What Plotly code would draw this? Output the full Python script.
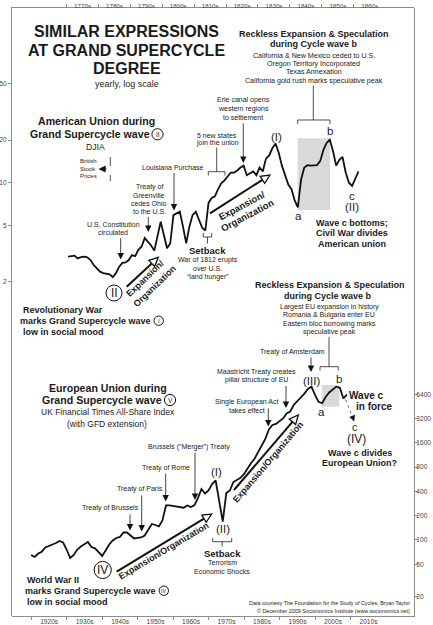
import math
import plotly.graph_objects as go

# ---------------- data ----------------
djia_years = list(range(1770, 1862))
djia_values = [
    3.0, 3.02, 3.05, 2.92, 2.98, 3.0, 2.97, 2.84, 2.62, 2.48,
    2.35, 2.3, 2.27, 2.25, 2.15, 2.3, 2.55, 2.71, 2.73, 2.84,
    3.08, 3.03, 3.35, 3.53, 4.06, 3.83, 3.6, 3.31, 4.15, 5.3,
    4.27, 3.44, 3.73, 5.9, 6.07, 6.24, 4.89, 3.73, 4.89, 5.9,
    6.24, 5.5, 4.8, 4.6, 7.2, 7.8, 8.0, 9.0, 9.9, 10.4,
    11.0, 11.8, 11.8, 12.2, 12.8, 13.2, 11.3, 11.6, 12.0, 11.3,
    12.8, 12.0, 14.8, 15.6, 17.5, 18.9, 16.3, 13.2, 11.3, 9.7,
    9.0, 7.5, 6.7, 10.5, 12.8, 13.3, 13.2, 13.2, 13.3, 14.2,
    17.0, 19.1, 20.1, 16.8, 13.2, 14.5, 15.2, 11.8, 10.0, 9.5,
    10.8, 12.0,
]
ft_years = list(range(1920, 2010))
ft_values = [
    65, 61.6, 68, 71.6, 80.7, 84.4, 86.7, 91.8, 97.2, 93.1,
    76.2, 59.8, 65.2, 76.2, 83, 89.2, 94.4, 81.8, 78.9, 70.9,
    63.4, 74.1, 88, 98.6, 105.9, 109, 123.8, 123.8, 113.7, 104.4,
    105.9, 107.4, 113.7, 133, 157.8, 153.4, 147, 175, 268, 268,
    264, 256, 256, 251, 268, 256, 269, 331, 428, 377,
    410, 494, 546, 313, 169, 382, 410, 523, 554, 590,
    658, 780, 900, 1023, 1231, 1461, 1785, 2340, 2660, 2738,
    2983, 3206, 3697, 3912, 4709, 5205, 5754, 6506, 7432, 7943,
    6266, 5150, 4950, 5915, 6730, 7330, 7943, 7700, 5662, 6353,
]
top_decades = list(range(1770, 1870, 10))
top_labels = [f"{d}s" for d in top_decades]
bottom_decades = list(range(1920, 2020, 10))
bottom_labels = [f"{d}s" for d in bottom_decades]
djia_ticks = [2, 5, 10, 20, 50]
ft_ticks = [20, 50, 100, 200, 400, 800, 1600, 3200, 6400]

# ---------------- geometry helpers ----------------
W, H = 433, 625
L, R, T, B = 12, 414, 8, 616
FONT = "Liberation Sans, Arial, Helvetica, sans-serif"
TXT = "#1a1a1a"


def px(x):
    return (x - L) / (R - L)


def py(y):
    return (B - y) / (B - T)


ann = []
shapes = []


def txt(x, y, s, size=7, bold=False, anchor="center", angle=0, color=TXT):
    ann.append(dict(x=px(x), y=py(y), xref="paper", yref="paper",
                    text=f"<b>{s}</b>" if bold else s, showarrow=False,
                    xanchor=anchor, yanchor="middle", textangle=angle,
                    font=dict(size=size, color=color, family=FONT), borderpad=0))


def lines(x, y0, dy, items, size=7, bold=False, anchor="center"):
    for i, s in enumerate(items):
        txt(x, y0 + i * dy, s, size, bold, anchor)


def arrow(x0, y0, x1, y1, width=0.8, size=1.6, color="#111"):
    ann.append(dict(x=px(x1), y=py(y1), xref="paper", yref="paper",
                    ax=x0 - x1, ay=y0 - y1, axref="pixel", ayref="pixel",
                    text="", showarrow=True, arrowhead=2, arrowsize=size,
                    arrowwidth=width, arrowcolor=color, standoff=0, startstandoff=0))


def seg(x0, y0, x1, y1, width=0.8, color="#222", dash="solid"):
    shapes.append(dict(type="line", xref="paper", yref="paper",
                       x0=px(x0), y0=py(y0), x1=px(x1), y1=py(y1),
                       line=dict(color=color, width=width, dash=dash)))


def path(points, width=0.8, color="#222", fill=None, close=False):
    d = "M " + " L ".join(f"{px(a):.5f},{py(b):.5f}" for a, b in points)
    if close:
        d += " Z"
    sh = dict(type="path", xref="paper", yref="paper", path=d,
              line=dict(color=color, width=width))
    if fill:
        sh["fillcolor"] = fill
    shapes.append(sh)


def rect(x0, y0, x1, y1, fill="#d9d9d9"):
    shapes.append(dict(type="rect", xref="paper", yref="paper", layer="below",
                       x0=px(x0), y0=py(y1), x1=px(x1), y1=py(y0),
                       fillcolor=fill, line=dict(width=0)))


def circ(cx, cy, r, label, size, width=1.0):
    shapes.append(dict(type="circle", xref="paper", yref="paper",
                       x0=px(cx - r), x1=px(cx + r), y0=py(cy + r), y1=py(cy - r),
                       line=dict(color="#111", width=width)))
    txt(cx, cy + 0.3, label, size)


def big_arrow(x0, y0, x1, y1, head=9, half=4.2, lw=2.0):
    dx, dy = x1 - x0, y1 - y0
    ln = math.hypot(dx, dy)
    ux, uy = dx / ln, dy / ln
    nx, ny = -uy, ux
    bx, by = x1 - head * ux, y1 - head * uy
    seg(x0, y0, bx, by, width=lw, color="#111")
    path([(x1, y1), (bx + nx * half, by + ny * half), (bx - nx * half, by - ny * half)],
         width=1.3, color="#111", fill="white", close=True)


# ---------------- decorations ----------------
rect(297.7, 138.3, 330, 210)
rect(321.7, 385, 339.3, 406.7)

txt(126.5, 31.7, "SIMILAR EXPRESSIONS", 16, True)
txt(126.5, 50.3, "AT GRAND SUPERCYCLE", 16, True)
txt(126.5, 69, "DEGREE", 16, True)
txt(126.5, 84, "yearly, log scale", 9)

# --- Upper panel (American Union) ---
txt(313.8, 33.7, "Reckless Expansion &amp; Speculation", 9, True)
txt(313.8, 44, "during Cycle wave b", 9, True)
lines(313.8, 55.7, 8.3, ["California &amp; New Mexico ceded to U.S.",
                          "Oregon Territory Incorporated",
                          "Texas Annexation",
                          "California gold rush marks speculative peak"], 7.1)
seg(313.3, 85.5, 313.3, 120)
path([(297.7, 124), (297.7, 120), (330, 120), (330, 124)])

lines(243.3, 100, 8.8, ["Erie canal opens", "western regions", "to settlement"], 7)
arrow(243.3, 122, 243.3, 163)

lines(217.2, 135, 8.3, ["5 new states", "join the union"], 7)
seg(216.7, 147.5, 216.7, 171.7)
path([(208.3, 175.5), (208.3, 171.7), (225, 171.7), (225, 175.5)])

txt(173.3, 167.3, "Louisiana Purchase", 7)
arrow(174, 171.5, 174, 210.5)

lines(149, 186.7, 8.35, ["Treaty of", "Greenville", "cedes Ohio", "to the U.S."], 7)
arrow(148.3, 215.5, 148.3, 232)

lines(113.2, 224, 8.3, ["U.S. Constitution", "circulated"], 7)
arrow(120.7, 236.7, 120.7, 259.5)

txt(96.7, 120.7, "American Union during", 10.6, True)
txt(150.5, 134.3, "Grand Supercycle wave", 10.6, True, anchor="right")
circ(157.5, 134.3, 5.6, "II", 6.5)
txt(95, 146.7, "DJIA", 8.6)

lines(88, 161, 7.6, ["British", "Stock", "Prices"], 6)
seg(110.3, 157, 110.3, 181, width=0.8, dash="dash")
arrow(108, 169, 98.5, 169, width=1.1, size=1.3)

txt(207.5, 250.7, "Setback", 9.5, True)
lines(207.5, 260, 8.6, ["War of 1812 erupts", "over U.S.", "\u201cland hunger\u201d"], 7)
path([(203.3, 233), (203.3, 237), (211.7, 237), (211.7, 233)])
seg(207.5, 237, 207.5, 243.5)

circ(114, 293, 8, "II", 12)

txt(145.6, 278.3, "Expansion/", 9, True, angle=-44)
txt(154.8, 285.9, "Organization", 9, True, angle=-44)
big_arrow(126.7, 286.7, 158.3, 257.3)

txt(241.7, 205, "Expansion/", 9.5, True, angle=-28)
txt(246.7, 215, "Organization", 9.5, True, angle=-28)
big_arrow(210, 213.3, 270, 175)

txt(276, 137.3, "(I)", 11.5)
txt(330, 130.7, "b", 11.5)
txt(298.7, 216, "a", 11.5)
txt(351.7, 196, "c", 11.5)
txt(351.7, 207.3, "(II)", 11.5)
lines(351.7, 222.7, 10.7, ["Wave c bottoms;", "Civil War divides", "American union"], 9, True)

txt(21.7, 310, "Revolutionary War", 9, True, anchor="left")
txt(151.8, 320.7, "marks Grand Supercycle wave", 9, True, anchor="right")
circ(158.7, 320.7, 4.7, "I", 6)
txt(21.7, 331.7, "low in social mood", 9, True, anchor="left")

# --- Lower panel (European Union) ---
txt(329.5, 285, "Reckless Expansion &amp; Speculation", 9, True)
txt(327.5, 295.7, "during Cycle wave b", 9, True)
lines(329.2, 306.7, 8.5, ["Largest EU expansion in history",
                          "Romania &amp; Bulgaria enter EU",
                          "Eastern bloc borrowing marks",
                          "speculative peak"], 7)
seg(329, 336.8, 329, 366.7)
path([(320, 370.5), (320, 366.7), (338.3, 366.7), (338.3, 370.5)])

txt(292.5, 351.7, "Treaty of Amsterdam", 7)
arrow(311, 356, 311, 372)
txt(311.5, 381, "(III)", 11.5)
txt(321.7, 411.5, "a", 11.5)
txt(339.3, 379.3, "b", 11.5)

lines(256.5, 371.7, 8.4, ["Maastricht Treaty creates", "pillar structure of EU"], 7)
arrow(286, 384.5, 286, 408)

lines(246.5, 401.7, 8.4, ["Single European Act", "takes effect"], 7)
arrow(268.3, 407, 268.3, 426.5)

txt(366.7, 396, "Wave c", 10, True)
txt(374.5, 406.3, "in force", 10, True)
seg(345.5, 399.5, 352.4, 416.5, width=0.9, color="#666", dash="dot")
arrow(352.2, 416, 354.2, 421.5, width=0.8, size=1.5)
txt(355, 426.5, "c", 11)
txt(356, 439, "(IV)", 12)
lines(359.5, 452.7, 10.6, ["Wave c divides", "European Union?"], 9, True)

txt(107.5, 387.7, "European Union during", 10.6, True)
txt(163.2, 400, "Grand Supercycle wave", 10.6, True, anchor="right")
circ(170, 400, 5.6, "V", 6.5)
txt(107.5, 412.3, "UK Financial Times All-Share Index", 8.5)
txt(106.7, 424, "(with GFD extension)", 8.5)

txt(189.2, 446.7, "Brussels (\u201cMerger\u201d) Treaty", 7)
arrow(195, 451, 195, 500)
txt(166, 467.7, "Treaty of Rome", 7)
arrow(165.7, 472, 165.7, 501.5)
txt(140, 489, "Treaty of Paris", 7)
arrow(141.7, 494, 141.7, 531.5)
txt(110, 508.3, "Treaty of Brussels", 7)
arrow(130, 513, 130, 530.5)

txt(216, 471.7, "(I)", 11.5)
txt(222.7, 529.3, "(II)", 11.5)
path([(212.7, 538), (212.7, 541.7), (231.7, 541.7), (231.7, 538)])
seg(222.2, 541.7, 222.2, 546.5)
txt(222.3, 553.3, "Setback", 9.5, True)
lines(222.3, 562.3, 8.7, ["Terrorism", "Economic Shocks"], 7)

circ(102.7, 570, 8.6, "IV", 12)

txt(163.3, 550.5, "Expansion/Organization", 9, True, angle=-30.7)
big_arrow(116.7, 571.7, 211.7, 514)
txt(268.3, 462.5, "Expansion/Organization", 9, True, angle=-49.6)
big_arrow(234, 490, 298.3, 415)

txt(26, 580, "World War II", 9, True, anchor="left")
txt(156.8, 590.7, "marks Grand Supercycle wave", 9, True, anchor="right")
circ(163.8, 590.7, 4.7, "IV", 5.2)
txt(26, 601.7, "low in social mood", 9, True, anchor="left")

txt(410.7, 603.3, "Data courtesy The Foundation for the Study of Cycles, Bryan Taylor", 5.4, anchor="right")
txt(410.7, 610.7, "\u00a9 December 2009 Socionomics Institute (www.socionomics.net)", 5.4, anchor="right")

# ---------------- traces ----------------
fig = go.Figure()
# European Union: UK FT All-Share (bottom years, right log axis)
fig.add_trace(go.Scatter(x=ft_years, y=ft_values, xaxis="x", yaxis="y",
                         mode="lines", line=dict(color="#111", width=1.8),
                         hoverinfo="skip"))
# American Union: DJIA (top years, left log axis), yearly points at mid-year
fig.add_trace(go.Scatter(x=[y + 0.5 for y in djia_years], y=djia_values,
                         xaxis="x2", yaxis="y2", mode="lines",
                         line=dict(color="#111", width=1.8), hoverinfo="skip"))

axcol = "#8c8c8c"
tickfont = dict(size=6.6, color="#444", family=FONT)
common = dict(showline=True, linecolor=axcol, linewidth=1, ticks="outside",
              ticklen=3, tickwidth=1, tickcolor=axcol, showgrid=False,
              zeroline=False, automargin=False,
              domain=[0, 1], fixedrange=True)

fig.update_layout(
    width=W, height=H,
    margin=dict(l=L, r=W - R, t=T, b=H - B, pad=0),
    paper_bgcolor="white", plot_bgcolor="rgba(0,0,0,0)", showlegend=False,
    xaxis=dict(range=[1914.6, 2027.9], tickmode="array", tickvals=bottom_decades,
               ticktext=bottom_labels, ticklabelshift=18, ticklabelstandoff=-4,
               side="bottom", anchor="y", tickfont=tickfont, **common),
    yaxis=dict(type="log", range=[1.058, 8.592], tickmode="array",
               tickvals=ft_ticks, ticktext=[str(v) for v in ft_ticks],
               side="right", anchor="x", ticklabelstandoff=-3, tickfont=tickfont, **common),
    xaxis2=dict(range=[1752.9, 1878.9], tickmode="array", tickvals=top_decades,
                ticktext=top_labels, ticklabelshift=16, ticklabelstandoff=-6,
                side="top", anchor="y2",
                tickfont=dict(size=6.2, color="#444", family=FONT), **common),
    yaxis2=dict(type="log", range=[-2.062, 2.2346], tickmode="array",
                tickvals=djia_ticks, ticktext=[str(v) for v in djia_ticks],
                side="left", anchor="x2", ticklabelstandoff=0, tickfont=tickfont, **common),
    annotations=ann,
    shapes=shapes,
)

fig.write_html("out.html")
